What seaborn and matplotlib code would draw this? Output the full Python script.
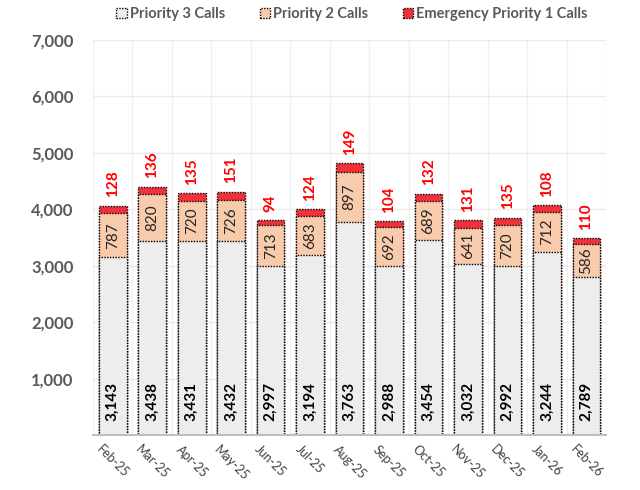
import matplotlib
matplotlib.use("Agg")
import matplotlib.pyplot as plt
import seaborn as sns
import pandas as pd
from matplotlib.patches import Patch

# | Data |---------------------------------------------------------------------------------------------------------------|
months = ["Feb-25", "Mar-25", "Apr-25", "May-25", "Jun-25", "Jul-25", "Aug-25",
          "Sep-25", "Oct-25", "Nov-25", "Dec-25", "Jan-26", "Feb-26"]
p3_calls = [3143, 3438, 3431, 3432, 2997, 3194, 3763, 2988, 3454, 3032, 2992, 3244, 2789]
p2_calls = [787, 820, 720, 726, 713, 683, 897, 692, 689, 641, 720, 712, 586]
p1_calls = [128, 136, 135, 151, 94, 124, 149, 104, 132, 131, 135, 108, 110]

P3_COLOR = "#EDEDED"
P2_COLOR = "#F8CBAD"
P1_COLOR = "#F2313B"
GRAY_TXT = "#595959"

df = pd.DataFrame({"month": months, "p3": p3_calls, "p2": p2_calls, "p1": p1_calls})
df["p3p2"] = df["p3"] + df["p2"]
df["total"] = df["p3p2"] + df["p1"]

sns.set_style("white")
plt.rcParams["font.family"] = ["Lato", "DejaVu Sans"]

fig = plt.figure(figsize=(6.4, 4.9), dpi=100)
ax = fig.add_axes([0.1453, 0.1122, 0.802, 0.807])

bar_kw = dict(width=0.7, edgecolor="black", linewidth=1.0, linestyle=(0, (1, 1)), saturation=1)
# layered stacking: total, then p3+p2, then p3
sns.barplot(data=df, x="month", y="total", color=P1_COLOR, ax=ax, **bar_kw)
sns.barplot(data=df, x="month", y="p3p2", color=P2_COLOR, ax=ax, **bar_kw)
sns.barplot(data=df, x="month", y="p3", color=P3_COLOR, ax=ax, **bar_kw)

for i, row in df.iterrows():
    ax.annotate(f"{row['p3']:,}", (i, 0), xytext=(0, 10), textcoords="offset points",
                rotation=90, ha="center", va="bottom", fontsize=11, fontweight="bold", color="black")
    ax.text(i, row["p3"] + row["p2"] / 2, f"{row['p2']}", rotation=90, ha="center", va="center",
            fontsize=11, color="#262626")
    ax.annotate(f"{row['p1']}", (i, row["total"]), xytext=(0, 6), textcoords="offset points",
                rotation=90, ha="center", va="bottom", fontsize=11, fontweight="bold", color="#FF0000")

ax.set_ylim(0, 7000)
ax.set_xlim(-0.5, len(months) - 0.5)
ax.set_yticks(range(1000, 7001, 1000))
ax.set_yticklabels([f"{v:,}" for v in range(1000, 7001, 1000)], fontsize=12, fontweight="bold", color=GRAY_TXT)
ax.set_xticks(range(len(months)))
ax.set_xticklabels(months, rotation=-45, ha="center", fontsize=9, color="#404040")
ax.tick_params(axis="x", pad=6, length=0)
ax.tick_params(axis="y", length=0, pad=14)
ax.set_xlabel("")
ax.set_ylabel("")

ax.grid(axis="y", color="#EBEBEB", linewidth=1)
for b in range(len(months) + 1):
    ax.axvline(b - 0.5, color="#F0F0F0", linewidth=1, zorder=0)
ax.set_axisbelow(True)
for side in ["top", "right", "left"]:
    ax.spines[side].set_visible(False)
ax.spines["bottom"].set_color("#BFBFBF")
ax.spines["bottom"].set_linewidth(1.5)

handles = [Patch(facecolor=P3_COLOR, edgecolor="black", linestyle=(0, (1, 1))),
           Patch(facecolor=P2_COLOR, edgecolor="black", linestyle=(0, (1, 1))),
           Patch(facecolor=P1_COLOR, edgecolor="black", linestyle=(0, (1, 1)))]
leg = fig.legend(handles, ["Priority 3 Calls", "Priority 2 Calls", "Emergency Priority 1 Calls"],
                 loc="upper center", bbox_to_anchor=(0.55, 1.012), ncol=3, frameon=False,
                 handlelength=0.7, handleheight=0.7, handletextpad=0.2, columnspacing=2.4,
                 prop={"weight": "bold", "size": 10.5})
for t in leg.get_texts():
    t.set_color(GRAY_TXT)

fig.savefig("out.png", dpi=100)
